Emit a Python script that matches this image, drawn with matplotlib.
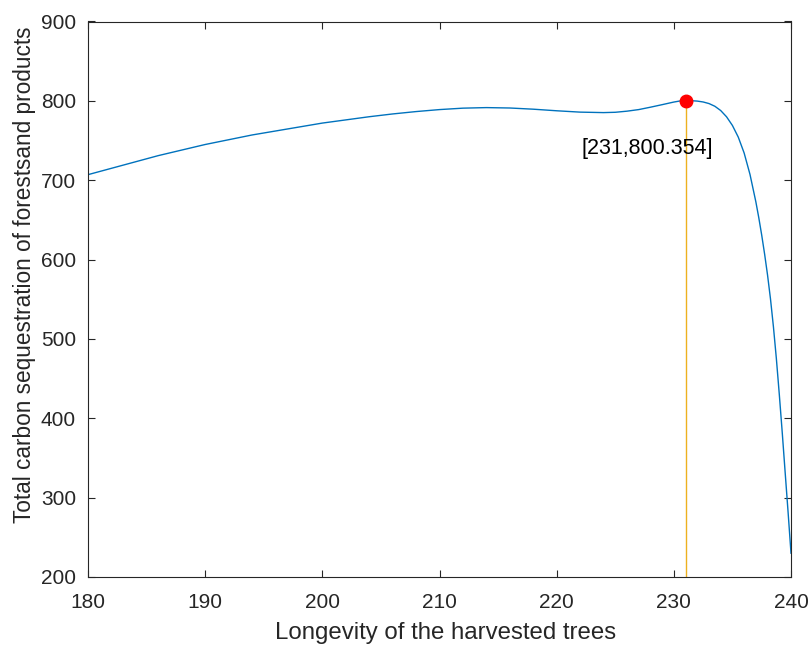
import matplotlib
matplotlib.use("Agg")
import matplotlib.pyplot as plt

# Data
longevity = [180, 182, 184, 186, 188, 190, 192, 194, 196, 198, 200, 202, 204,
             206, 208, 210, 212, 214, 216, 218, 220, 222, 224, 225, 226, 227,
             228, 229, 230, 230.5, 231, 231.5, 232, 232.5, 233, 233.5, 234,
             234.5, 235, 235.5, 236, 236.5, 237, 237.25, 237.5, 237.75, 238,
             238.25, 238.5, 238.75, 239, 239.25, 239.5, 239.75, 240]
carbon = [707, 715, 723, 731, 738, 745, 751, 757, 762, 767, 772, 776, 780,
          783.5, 786.5, 789, 790.8, 791.5, 791, 789.5, 787.5, 785.8, 785.2, 785.6, 787, 789,
          792, 795.2, 798.5, 799.8, 800.354, 800.2, 799.7, 798.6, 796.6, 793.2, 787.8,
          779.9, 769, 754.3, 734.3, 707.3, 672.8, 652.8, 630.8, 606.7, 580.3,
          550.3, 515.3, 475.3, 430.3, 382.5, 332, 282, 230]
peak_x = 231
peak_y = 800.354
peak_label = "[231,800.354]"
x_ticks = [180, 190, 200, 210, 220, 230, 240]
y_ticks = [200, 300, 400, 500, 600, 700, 800, 900]

plt.rcParams['font.family'] = ['Liberation Sans', 'DejaVu Sans']

fig = plt.figure(figsize=(8.1, 6.46), dpi=100)
ax = fig.add_axes([88 / 810, 1 - 577 / 646, (791 - 88) / 810, (577 - 21.5) / 646])

ax.plot(longevity, carbon, color='#0072BD', lw=1.0, zorder=2)
ax.plot([peak_x, peak_x], [200, peak_y], color='#EDB120', lw=1.0, zorder=1)
ax.plot([peak_x], [peak_y], 'o', color='#FF0000', ms=9, zorder=3)
ax.text(227.75, 740, peak_label, ha='center', va='center', fontsize=15.5, color='#000000')

ax.set_xlim(180, 240)
ax.set_ylim(200, 900)
ax.set_xticks(x_ticks)
ax.set_yticks(y_ticks)
ax.tick_params(direction='in', length=5, width=0.8, colors='#262626', labelsize=15,
               top=True, right=True)
ax.tick_params(axis='x', pad=11.5)
ax.tick_params(axis='y', pad=8.6)
for s in ax.spines.values():
    s.set_color('#262626')
    s.set_linewidth(0.8)

ax.set_xlabel("Longevity of the harvested trees", fontsize=17.3, color='#262626')
ax.set_ylabel("Total carbon sequestration of forestsand products", fontsize=16.3,
              color='#262626')
ax.xaxis.set_label_coords(0.508, -0.081)
ax.yaxis.set_label_coords(-0.074, 0.544)

fig.savefig("out.png", dpi=100)
